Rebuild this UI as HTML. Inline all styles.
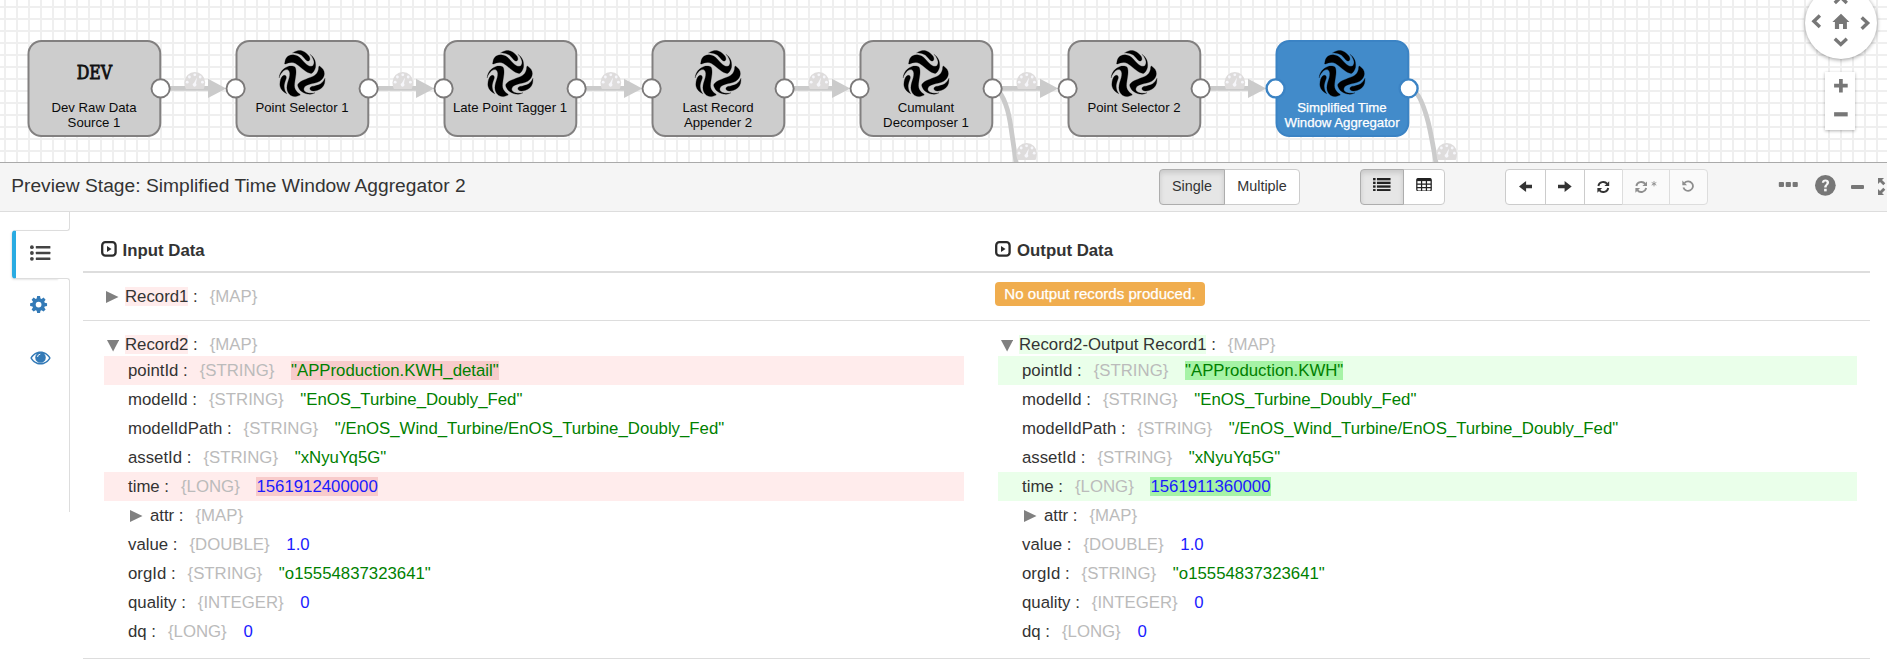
<!DOCTYPE html><html><head><meta charset="utf-8"><title>Preview</title><style>
*{box-sizing:border-box}
html,body{margin:0;padding:0}
body{width:1887px;height:662px;overflow:hidden;background:#fff;font-family:"Liberation Sans",Arial,sans-serif;color:#333;position:relative}
#canvas{position:absolute;left:0;top:0;width:1887px;height:162px;background-color:#fff;
 background-image:linear-gradient(#efefef 2px,transparent 2px),linear-gradient(90deg,#efefef 2px,transparent 2px);
 background-size:12px 12px;background-position:4px 6px;overflow:hidden}
#canvas svg{position:absolute;left:0;top:0}
#cborder{position:absolute;left:0;top:162px;width:1887px;height:1px;background:#aaa}
.nlabel{font-size:13.2px;fill:#0a0a0a;text-anchor:middle}
.nlabel.sel{fill:#fff;stroke:#fff;stroke-width:0.25px}
#pan{position:absolute;left:1805px;top:-13px;width:72px;height:72px;border-radius:50%;background:#fff;box-shadow:0 1px 4px rgba(0,0,0,.4)}
#zoom{position:absolute;left:1825px;top:72px;width:30px;height:58px;background:#fff;box-shadow:0 1px 3px rgba(0,0,0,.3)}
#hdr{position:absolute;left:0;top:163px;width:1887px;height:49px;background:#f5f5f5;border-bottom:1px solid #ddd}
#title{position:absolute;left:11.2px;top:11.6px;letter-spacing:0.025px;font-size:19.2px;line-height:22px;color:#333;white-space:nowrap}
.bg{position:absolute;top:6px;height:36px;display:flex}
.btn{height:36px;border:1px solid #ccc;background:#fff;font-size:14.4px;color:#333;display:flex;align-items:center;justify-content:center;margin-left:-1px;position:relative;padding-bottom:2px}
.btn svg{position:relative}
.btn:first-child{margin-left:0;border-radius:4px 0 0 4px}
.btn:last-child{border-radius:0 4px 4px 0}
.btn.act{background:#e6e6e6;border-color:#adadad;box-shadow:inset 0 3px 5px rgba(0,0,0,.125);z-index:2}
.btn.dis{background:#fafafa;border-color:#ddd}
.btn.dis svg{opacity:.65}
#sideU{position:absolute;left:58px;top:212px;width:12px;height:19px;border-right:1px solid #ddd;border-bottom:1px solid #ddd;border-bottom-right-radius:3px}
#sideL{position:absolute;left:58px;top:278px;width:12px;height:234px;border-right:1px solid #ddd;border-top:1px solid #ddd;border-top-right-radius:3px}
#tab{position:absolute;left:12px;top:230px;width:47px;height:49px;background:#fff;border:1px solid #ddd;border-right:0;border-left:4px solid #29abe2;border-radius:4px 0 0 4px;box-shadow:-1px 1px 2px rgba(0,0,0,.1);clip-path:inset(-4px 0 -4px -4px)}
.abs{position:absolute}
.hr{position:absolute;left:83px;width:1787px;background:#ddd}
.h{position:absolute;font-size:16.8px;font-weight:bold;color:#333;line-height:20px;white-space:nowrap}
.row{position:absolute;height:29px;line-height:29px;font-size:16.8px;white-space:nowrap;color:#333}
.row.L{left:104px;width:860px}
.row.R{left:998px;width:859px}
.row.del{background:#ffecec}
.row.add{background:#eaffea}
.row span{display:inline-block;line-height:19px;height:19px;vertical-align:baseline}
.n{margin-left:24px}
.t{color:#bbb;margin-left:7.3px}
.v{margin-left:12px}
.s{color:#008000}
.num{color:#1a1aff}
.hd{background:#f8cbcb}
.ha{background:#a6f3a6}
.ld{background:#ffecec}
.la{background:#eaffea}
.badge{position:absolute;left:995px;top:282px;width:210px;height:24px;border-radius:4px;background:#f0ad4e;color:#fff;font-size:15.1px;line-height:24px;padding-left:9.3px;white-space:nowrap;-webkit-text-stroke:0.25px #fff}
</style></head><body><div id="canvas"><svg width="1887" height="162" viewBox="0 0 1887 162" font-family="Liberation Sans, Arial, sans-serif"><defs><g id="arm"><path d="M-8.90,-22.10C-8.07,-22.47 -5.53,-23.97 -3.90,-24.30C-2.27,-24.63 -0.60,-24.55 0.90,-24.10C2.40,-23.65 3.97,-22.50 5.10,-21.60C6.23,-20.70 7.13,-19.68 7.70,-18.70C8.27,-17.72 8.57,-16.48 8.50,-15.70C8.43,-14.92 7.85,-14.22 7.30,-14.00C6.75,-13.78 5.95,-13.90 5.20,-14.40C4.45,-14.90 3.68,-16.08 2.80,-17.00C1.92,-17.92 0.97,-19.13 -0.10,-19.90C-1.17,-20.67 -2.48,-21.23 -3.60,-21.60C-4.72,-21.97 -5.92,-22.02 -6.80,-22.10C-7.68,-22.18 -8.55,-22.10 -8.90,-22.10Z"/><path d="M-16.80,-11.00C-16.62,-11.83 -16.40,-14.63 -15.70,-16.00C-15.00,-17.37 -13.85,-18.50 -12.60,-19.20C-11.35,-19.90 -9.68,-20.25 -8.20,-20.20C-6.72,-20.15 -5.12,-19.67 -3.70,-18.90C-2.28,-18.13 -0.95,-16.78 0.30,-15.60C1.55,-14.42 2.67,-12.85 3.80,-11.80C4.93,-10.75 6.08,-9.82 7.10,-9.30C8.12,-8.78 9.08,-8.58 9.90,-8.70C10.72,-8.82 11.55,-9.23 12.00,-10.00C12.45,-10.77 12.68,-12.22 12.60,-13.30C12.52,-14.38 11.95,-15.48 11.50,-16.50C11.05,-17.52 10.40,-18.72 9.90,-19.40C9.40,-20.08 8.73,-20.40 8.50,-20.60C8.93,-20.27 10.28,-19.55 11.10,-18.60C11.92,-17.65 12.88,-16.20 13.40,-14.90C13.92,-13.60 14.10,-12.08 14.20,-10.80C14.30,-9.52 14.25,-8.30 14.00,-7.20C13.75,-6.10 13.28,-5.10 12.70,-4.20C12.12,-3.30 11.28,-2.18 10.50,-1.80C9.72,-1.42 8.97,-1.62 8.00,-1.90C7.03,-2.18 5.82,-2.82 4.70,-3.50C3.58,-4.18 2.47,-5.10 1.30,-6.00C0.13,-6.90 -1.12,-8.00 -2.30,-8.90C-3.48,-9.80 -4.63,-10.80 -5.80,-11.40C-6.97,-12.00 -8.10,-12.38 -9.30,-12.50C-10.50,-12.62 -11.95,-12.35 -13.00,-12.10C-14.05,-11.85 -14.97,-11.18 -15.60,-11.00C-16.23,-10.82 -16.60,-11.00 -16.80,-11.00Z"/></g><g id="logo" fill="#000" stroke="#000" stroke-width="0.25" stroke-linejoin="round"><use href="#arm"/><use href="#arm" transform="rotate(120)"/><use href="#arm" transform="rotate(240)"/></g></defs><path d="M161,88.4H209" stroke="#cbcbcb" stroke-width="4.8" fill="none"/><path d="M208,78.8L226.2,88.4L208,98Z" fill="#cbcbcb"/><g transform="translate(184.5,72)"><path d="M0,10.3A10.3,10.3 0 0 1 20.6,10.3C20.6,12.9 20,15 19.2,17L1.4,17C0.6,15 0,12.9 0,10.3Z" fill="#dedcdc"/><circle cx="2.7" cy="10.2" r="1.4" fill="#f6f6fa"/><circle cx="4.9" cy="5.0" r="1.4" fill="#f6f6fa"/><circle cx="10.3" cy="2.8" r="1.4" fill="#f6f6fa"/><circle cx="15.7" cy="5.0" r="1.4" fill="#f6f6fa"/><circle cx="17.9" cy="10.2" r="1.4" fill="#f6f6fa"/><path d="M12.5,5.6L11.5,11.4A1.9,1.9 0 1 1 9.4,10.9L12.5,5.6Z" fill="#f6f6fa"/></g><path d="M369,88.4H417" stroke="#cbcbcb" stroke-width="4.8" fill="none"/><path d="M416,78.8L434.2,88.4L416,98Z" fill="#cbcbcb"/><g transform="translate(392.5,72)"><path d="M0,10.3A10.3,10.3 0 0 1 20.6,10.3C20.6,12.9 20,15 19.2,17L1.4,17C0.6,15 0,12.9 0,10.3Z" fill="#dedcdc"/><circle cx="2.7" cy="10.2" r="1.4" fill="#f6f6fa"/><circle cx="4.9" cy="5.0" r="1.4" fill="#f6f6fa"/><circle cx="10.3" cy="2.8" r="1.4" fill="#f6f6fa"/><circle cx="15.7" cy="5.0" r="1.4" fill="#f6f6fa"/><circle cx="17.9" cy="10.2" r="1.4" fill="#f6f6fa"/><path d="M12.5,5.6L11.5,11.4A1.9,1.9 0 1 1 9.4,10.9L12.5,5.6Z" fill="#f6f6fa"/></g><path d="M577,88.4H625" stroke="#cbcbcb" stroke-width="4.8" fill="none"/><path d="M624,78.8L642.2,88.4L624,98Z" fill="#cbcbcb"/><g transform="translate(600.5,72)"><path d="M0,10.3A10.3,10.3 0 0 1 20.6,10.3C20.6,12.9 20,15 19.2,17L1.4,17C0.6,15 0,12.9 0,10.3Z" fill="#dedcdc"/><circle cx="2.7" cy="10.2" r="1.4" fill="#f6f6fa"/><circle cx="4.9" cy="5.0" r="1.4" fill="#f6f6fa"/><circle cx="10.3" cy="2.8" r="1.4" fill="#f6f6fa"/><circle cx="15.7" cy="5.0" r="1.4" fill="#f6f6fa"/><circle cx="17.9" cy="10.2" r="1.4" fill="#f6f6fa"/><path d="M12.5,5.6L11.5,11.4A1.9,1.9 0 1 1 9.4,10.9L12.5,5.6Z" fill="#f6f6fa"/></g><path d="M785,88.4H833" stroke="#cbcbcb" stroke-width="4.8" fill="none"/><path d="M832,78.8L850.2,88.4L832,98Z" fill="#cbcbcb"/><g transform="translate(808.5,72)"><path d="M0,10.3A10.3,10.3 0 0 1 20.6,10.3C20.6,12.9 20,15 19.2,17L1.4,17C0.6,15 0,12.9 0,10.3Z" fill="#dedcdc"/><circle cx="2.7" cy="10.2" r="1.4" fill="#f6f6fa"/><circle cx="4.9" cy="5.0" r="1.4" fill="#f6f6fa"/><circle cx="10.3" cy="2.8" r="1.4" fill="#f6f6fa"/><circle cx="15.7" cy="5.0" r="1.4" fill="#f6f6fa"/><circle cx="17.9" cy="10.2" r="1.4" fill="#f6f6fa"/><path d="M12.5,5.6L11.5,11.4A1.9,1.9 0 1 1 9.4,10.9L12.5,5.6Z" fill="#f6f6fa"/></g><path d="M993,88.4H1041" stroke="#cbcbcb" stroke-width="4.8" fill="none"/><path d="M1040,78.8L1058.2,88.4L1040,98Z" fill="#cbcbcb"/><g transform="translate(1016.5,72)"><path d="M0,10.3A10.3,10.3 0 0 1 20.6,10.3C20.6,12.9 20,15 19.2,17L1.4,17C0.6,15 0,12.9 0,10.3Z" fill="#dedcdc"/><circle cx="2.7" cy="10.2" r="1.4" fill="#f6f6fa"/><circle cx="4.9" cy="5.0" r="1.4" fill="#f6f6fa"/><circle cx="10.3" cy="2.8" r="1.4" fill="#f6f6fa"/><circle cx="15.7" cy="5.0" r="1.4" fill="#f6f6fa"/><circle cx="17.9" cy="10.2" r="1.4" fill="#f6f6fa"/><path d="M12.5,5.6L11.5,11.4A1.9,1.9 0 1 1 9.4,10.9L12.5,5.6Z" fill="#f6f6fa"/></g><path d="M1201,88.4H1249" stroke="#cbcbcb" stroke-width="4.8" fill="none"/><path d="M1248,78.8L1266.2,88.4L1248,98Z" fill="#cbcbcb"/><g transform="translate(1224.5,72)"><path d="M0,10.3A10.3,10.3 0 0 1 20.6,10.3C20.6,12.9 20,15 19.2,17L1.4,17C0.6,15 0,12.9 0,10.3Z" fill="#dedcdc"/><circle cx="2.7" cy="10.2" r="1.4" fill="#f6f6fa"/><circle cx="4.9" cy="5.0" r="1.4" fill="#f6f6fa"/><circle cx="10.3" cy="2.8" r="1.4" fill="#f6f6fa"/><circle cx="15.7" cy="5.0" r="1.4" fill="#f6f6fa"/><circle cx="17.9" cy="10.2" r="1.4" fill="#f6f6fa"/><path d="M12.5,5.6L11.5,11.4A1.9,1.9 0 1 1 9.4,10.9L12.5,5.6Z" fill="#f6f6fa"/></g><path d="M993,88.4C1001,88.4 1007.5,106 1010.2,122.6C1012.4,137 1014.5,151 1017.5,172" stroke="#cbcbcb" stroke-width="4.8" fill="none"/><g transform="translate(1016.3,143)"><path d="M0,10.3A10.3,10.3 0 0 1 20.6,10.3C20.6,12.9 20,15 19.2,17L1.4,17C0.6,15 0,12.9 0,10.3Z" fill="#dedcdc"/><circle cx="2.7" cy="10.2" r="1.4" fill="#f6f6fa"/><circle cx="4.9" cy="5.0" r="1.4" fill="#f6f6fa"/><circle cx="10.3" cy="2.8" r="1.4" fill="#f6f6fa"/><circle cx="15.7" cy="5.0" r="1.4" fill="#f6f6fa"/><circle cx="17.9" cy="10.2" r="1.4" fill="#f6f6fa"/><path d="M12.5,5.6L11.5,11.4A1.9,1.9 0 1 1 9.4,10.9L12.5,5.6Z" fill="#f6f6fa"/></g><path d="M1409,88.4C1418,88.4 1424.5,108 1428.3,122.6C1431.5,136 1434,150 1437.5,172" stroke="#cbcbcb" stroke-width="4.8" fill="none"/><g transform="translate(1436.5,143)"><path d="M0,10.3A10.3,10.3 0 0 1 20.6,10.3C20.6,12.9 20,15 19.2,17L1.4,17C0.6,15 0,12.9 0,10.3Z" fill="#dedcdc"/><circle cx="2.7" cy="10.2" r="1.4" fill="#f6f6fa"/><circle cx="4.9" cy="5.0" r="1.4" fill="#f6f6fa"/><circle cx="10.3" cy="2.8" r="1.4" fill="#f6f6fa"/><circle cx="15.7" cy="5.0" r="1.4" fill="#f6f6fa"/><circle cx="17.9" cy="10.2" r="1.4" fill="#f6f6fa"/><path d="M12.5,5.6L11.5,11.4A1.9,1.9 0 1 1 9.4,10.9L12.5,5.6Z" fill="#f6f6fa"/></g> <rect x="28.5" y="41" width="131.8" height="95" rx="13" ry="13" fill="#cdcdcd" stroke="#828080" stroke-width="2"/><text x="76.7" y="78.7" font-family="DejaVu Serif, Liberation Serif, serif" font-size="18.4" textLength="35.4" lengthAdjust="spacingAndGlyphs" fill="#111" stroke="#111" stroke-width="0.85">DEV</text><text x="94" y="112.0" class="nlabel">Dev Raw Data</text><text x="94" y="126.7" class="nlabel">Source 1</text><circle cx="160.6" cy="88.4" r="9.1" fill="#fff" stroke="#7b7979" stroke-width="1.9"/> <rect x="236.5" y="41" width="131.8" height="95" rx="13" ry="13" fill="#cdcdcd" stroke="#828080" stroke-width="2"/><use href="#logo" x="301.4" y="75.0"/><text x="302" y="112.0" class="nlabel">Point Selector 1</text><circle cx="235.6" cy="88.4" r="9.1" fill="#fff" stroke="#7b7979" stroke-width="1.9"/><circle cx="368.6" cy="88.4" r="9.1" fill="#fff" stroke="#7b7979" stroke-width="1.9"/> <rect x="444.5" y="41" width="131.8" height="95" rx="13" ry="13" fill="#cdcdcd" stroke="#828080" stroke-width="2"/><use href="#logo" x="509.4" y="75.0"/><text x="510" y="112.0" class="nlabel">Late Point Tagger 1</text><circle cx="443.6" cy="88.4" r="9.1" fill="#fff" stroke="#7b7979" stroke-width="1.9"/><circle cx="576.6" cy="88.4" r="9.1" fill="#fff" stroke="#7b7979" stroke-width="1.9"/> <rect x="652.5" y="41" width="131.8" height="95" rx="13" ry="13" fill="#cdcdcd" stroke="#828080" stroke-width="2"/><use href="#logo" x="717.4" y="75.0"/><text x="718" y="112.0" class="nlabel">Last Record</text><text x="718" y="126.7" class="nlabel">Appender 2</text><circle cx="651.6" cy="88.4" r="9.1" fill="#fff" stroke="#7b7979" stroke-width="1.9"/><circle cx="784.6" cy="88.4" r="9.1" fill="#fff" stroke="#7b7979" stroke-width="1.9"/> <rect x="860.5" y="41" width="131.8" height="95" rx="13" ry="13" fill="#cdcdcd" stroke="#828080" stroke-width="2"/><use href="#logo" x="925.4" y="75.0"/><text x="926" y="112.0" class="nlabel">Cumulant</text><text x="926" y="126.7" class="nlabel">Decomposer 1</text><circle cx="859.6" cy="88.4" r="9.1" fill="#fff" stroke="#7b7979" stroke-width="1.9"/><circle cx="992.6" cy="88.4" r="9.1" fill="#fff" stroke="#7b7979" stroke-width="1.9"/> <rect x="1068.5" y="41" width="131.8" height="95" rx="13" ry="13" fill="#cdcdcd" stroke="#828080" stroke-width="2"/><use href="#logo" x="1133.4" y="75.0"/><text x="1134" y="112.0" class="nlabel">Point Selector 2</text><circle cx="1067.6" cy="88.4" r="9.1" fill="#fff" stroke="#7b7979" stroke-width="1.9"/><circle cx="1200.6" cy="88.4" r="9.1" fill="#fff" stroke="#7b7979" stroke-width="1.9"/> <rect x="1276.5" y="41" width="131.8" height="95" rx="13" ry="13" fill="#428bca" stroke="#3b83c4" stroke-width="2"/><use href="#logo" x="1341.4" y="75.0"/><text x="1342" y="112.0" class="nlabel sel">Simplified Time</text><text x="1342" y="126.7" class="nlabel sel">Window Aggregator</text><circle cx="1275.6" cy="88.4" r="9.0" fill="#fff" stroke="#3b83c4" stroke-width="2.4"/><circle cx="1408.6" cy="88.4" r="9.0" fill="#fff" stroke="#3b83c4" stroke-width="2.4"/></svg><div id="pan"><svg width="72" height="72" viewBox="0 0 72 72" style="position:absolute;left:0;top:0"><path d="M14.9,28.6L8.9,34.3L14.9,40" stroke="#777" stroke-width="3.4" fill="none"/><path d="M56.7,30.4L62.65,36.1L56.7,41.8" stroke="#777" stroke-width="3.4" fill="none"/><path d="M29.8,51.8L35.8,57.5L41.8,51.8" stroke="#777" stroke-width="3.4" fill="none"/><path d="M29.8,15.9L35.8,10.2L41.8,15.9" stroke="#777" stroke-width="3.4" fill="none"/><path d="M36,26.8L27.4,35.1H29.9V42.1H34.1V37.1H38V42.1H41.9V35.1H44.4Z" fill="#777"/></svg></div><div id="zoom"><svg width="30" height="58" viewBox="0 0 30 58" style="position:absolute;left:0;top:0"><path d="M9.1,13.7H22.7M15.9,6.9V20.5" stroke="#777" stroke-width="3.7" fill="none"/><path d="M9.1,42.3H22.7" stroke="#777" stroke-width="4.2" fill="none"/></svg></div></div><div id="cborder"></div><div id="hdr"><div id="title">Preview Stage: Simplified Time Window Aggregator 2</div><div class="bg" style="left:1159px"><div class="btn act" style="width:66px">Single</div><div class="btn" style="width:76px">Multiple</div></div><div class="bg" style="left:1360px"><div class="btn act" style="width:44px"><svg width="17.6" height="13.6" viewBox="0 0 18 14" style="top:-1.7px"><rect x="0" y="0" width="2.6" height="2.4" fill="#222"/><rect x="4" y="0" width="14" height="2.4" fill="#222"/><rect x="0" y="3.8" width="2.6" height="2.4" fill="#222"/><rect x="4" y="3.8" width="14" height="2.4" fill="#222"/><rect x="0" y="7.6" width="2.6" height="2.4" fill="#222"/><rect x="4" y="7.6" width="14" height="2.4" fill="#222"/><rect x="0" y="11.4" width="2.6" height="2.4" fill="#222"/><rect x="4" y="11.4" width="14" height="2.4" fill="#222"/></svg></div><div class="btn" style="width:42px"><svg width="16" height="13.6" viewBox="0 0 16 14" style="top:-1.7px"><rect x="0.6" y="0.6" width="14.8" height="12.8" rx="1.6" fill="none" stroke="#222" stroke-width="1.3"/><rect x="0.6" y="0.6" width="14.8" height="2.6" fill="#222"/><path d="M0.6,6.4H15.4M0.6,9.8H15.4M5.5,3V13.4M10.5,3V13.4" stroke="#222" stroke-width="1.3"/></svg></div></div><div class="bg" style="left:1505px"><div class="btn" style="width:41px"><svg width="13.7" height="11" viewBox="0 0 13.7 11" style="top:0.5px"><path d="M0,5.5L7.1,0V3.7H13.7V7.3H7.1V11Z" fill="#333"/></svg></div><div class="btn" style="width:40px"><svg width="13.7" height="11" viewBox="0 0 13.7 11" style="top:0.5px"><path d="M0,5.5L7.1,0V3.7H13.7V7.3H7.1V11Z" transform="translate(13.7,0) scale(-1,1)" fill="#333"/></svg></div><div class="btn" style="width:39px"><svg width="12.6" height="12" viewBox="0 0 13 13" preserveAspectRatio="none" style="top:0.5px"><path d="M1.4,5.4A5.2,5.2 0 0 1 10.6,3.1" stroke="#333" stroke-width="1.9" fill="none"/><path d="M12.6,0.4V5.3H7.7Z" fill="#333"/><path d="M11.6,7.6A5.2,5.2 0 0 1 2.4,9.9" stroke="#333" stroke-width="1.9" fill="none"/><path d="M0.4,12.6V7.7H5.3Z" fill="#333"/></svg></div><div class="btn dis" style="width:48px"><svg width="12.6" height="12" viewBox="0 0 13 13" preserveAspectRatio="none" style="top:0.5px"><path d="M1.4,5.4A5.2,5.2 0 0 1 10.6,3.1" stroke="#555" stroke-width="1.9" fill="none"/><path d="M12.6,0.4V5.3H7.7Z" fill="#555"/><path d="M11.6,7.6A5.2,5.2 0 0 1 2.4,9.9" stroke="#555" stroke-width="1.9" fill="none"/><path d="M0.4,12.6V7.7H5.3Z" fill="#555"/></svg><svg width="6" height="13" viewBox="0 0 6 13" style="margin-left:4px"><path d="M3,1.2V6.4M0.7,2.5L5.3,5.1M5.3,2.5L0.7,5.1" stroke="#555" stroke-width="0.9"/></svg></div><div class="btn dis" style="width:39px"><svg width="12.4" height="12" viewBox="0 0 13 13" preserveAspectRatio="none" style="top:0.4px"><path d="M2.6,3.2A5.1,5.1 0 1 1 1.5,8.2" stroke="#555" stroke-width="1.9" fill="none"/><path d="M0.3,0.6V5.6H5.3Z" fill="#555"/></svg></div></div><svg class="abs" style="left:1778px;top:18px" width="21" height="7" viewBox="0 0 21 7"><rect x="0.8" y="0.9" width="5.2" height="5.1" rx="0.9" fill="#777"/><rect x="7.7" y="0.9" width="5.2" height="5.1" rx="0.9" fill="#777"/><rect x="14.6" y="0.9" width="5.2" height="5.1" rx="0.9" fill="#777"/></svg><svg class="abs" style="left:1815px;top:12px" width="20.7" height="20.7" viewBox="0 0 20 20"><circle cx="10" cy="10" r="10" fill="#777"/><path d="M6.6,7.6C6.6,5.4 8.2,4.3 10.1,4.3C12.1,4.3 13.6,5.5 13.6,7.3C13.6,9.6 11.2,9.9 11.2,12H8.9C8.9,9.2 11.2,9 11.2,7.4C11.2,6.8 10.7,6.4 10.1,6.4C9.4,6.4 8.9,6.9 8.9,7.6Z" fill="#f5f5f5"/><rect x="8.8" y="13.3" width="2.5" height="2.5" fill="#f5f5f5"/></svg><div class="abs" style="left:1851px;top:22px;width:13px;height:4px;background:#777;border-radius:1px"></div><svg class="abs" style="left:1877px;top:15px" width="12" height="18" viewBox="0 0 12 18"><path d="M1,0H7L5,2L8.3,5.3L6.3,7.3L3,4L1,6Z" fill="#777"/><path d="M1,17H7L5,15L8.3,11.7L6.3,9.7L3,13L1,11Z" fill="#777"/></svg></div><div id="tab"></div><div id="sideU"></div><div id="sideL"></div><svg class="abs" style="left:30px;top:245px" width="21" height="16" viewBox="0 0 21 16"><circle cx="1.9" cy="2.2" r="1.9" fill="#444"/><rect x="5.8" y="0.9000000000000001" width="14.6" height="2.6" rx="0.5" fill="#444"/><circle cx="1.9" cy="8" r="1.9" fill="#444"/><rect x="5.8" y="6.7" width="14.6" height="2.6" rx="0.5" fill="#444"/><circle cx="1.9" cy="13.8" r="1.9" fill="#444"/><rect x="5.8" y="12.5" width="14.6" height="2.6" rx="0.5" fill="#444"/></svg><svg class="abs" style="left:30.4px;top:296.4px" width="17.2" height="17.2" viewBox="0 0 17.2 17.2"><path d="M7.15,0.12L10.05,0.12L10.49,2.49L11.59,2.94L13.56,1.58L15.62,3.64L14.26,5.61L14.71,6.71L17.08,7.15L17.08,10.05L14.71,10.49L14.26,11.59L15.62,13.56L13.56,15.62L11.59,14.26L10.49,14.71L10.05,17.08L7.15,17.08L6.71,14.71L5.61,14.26L3.64,15.62L1.58,13.56L2.94,11.59L2.49,10.49L0.12,10.05L0.12,7.15L2.49,6.71L2.94,5.61L1.58,3.64L3.64,1.58L5.61,2.94L6.71,2.49ZM11.5,8.6A2.9,2.9 0 1 0 5.699999999999999,8.6A2.9,2.9 0 1 0 11.5,8.6Z" fill="#337ab7" fill-rule="evenodd"/></svg><svg class="abs" style="left:30px;top:350.5px" width="21" height="14" viewBox="0 0 21 14"><path d="M0.3,7C2.5,2.8 6.2,0.4 10.5,0.4C14.8,0.4 18.5,2.8 20.7,7C18.5,11.2 14.8,13.6 10.5,13.6C6.2,13.6 2.5,11.2 0.3,7ZM1.9,7C3.9,10.2 7,12.1 10.5,12.1C14,12.1 17.1,10.2 19.1,7C17.9,5 16.2,3.6 14.2,2.7A5.3,5.3 0 1 1 6.8,2.7C4.8,3.6 3.1,5 1.9,7Z" fill="#337ab7" fill-rule="evenodd"/><circle cx="10.5" cy="6.2" r="3.6" fill="#337ab7"/><path d="M10.3,3.2A3,3 0 0 0 7.5,6" stroke="#fff" stroke-width="0.9" fill="none"/></svg><svg class="abs" style="left:100.9px;top:241.1px" width="16" height="16" viewBox="0 0 16 16"><rect x="1.2" y="1.2" width="13.4" height="13.4" rx="3.2" fill="none" stroke="#2b2b2b" stroke-width="2.3"/><path d="M6,5L10.5,7.9L6,10.9Z" fill="#2b2b2b"/></svg><div class="h" style="left:122.6px;top:241.3px">Input Data</div><svg class="abs" style="left:995px;top:241.1px" width="16" height="16" viewBox="0 0 16 16"><rect x="1.2" y="1.2" width="13.4" height="13.4" rx="3.2" fill="none" stroke="#2b2b2b" stroke-width="2.3"/><path d="M6,5L10.5,7.9L6,10.9Z" fill="#2b2b2b"/></svg><div class="h" style="left:1017px;top:241.3px">Output Data</div><div class="hr" style="top:271px;height:2px"></div><div class="hr" style="top:320px;height:1px"></div><div class="hr" style="top:658px;height:1px"></div><div class="badge">No output records produced.</div><div class="row L" style="top:282px"><span style="margin-left:2px;width:12.5px"><svg width="12.5" height="12" viewBox="0 0 12.5 12" style="vertical-align:-1px"><path d="M0,0L12.5,6L0,12Z" fill="#808080"/></svg></span><span class="ld" style="margin-left:6.5px">Record1</span><span>&nbsp;:</span><span class="t" style="margin-left:12px">{MAP}</span></div><div class="row L" style="top:330px"><span style="margin-left:3px;width:12.2px"><svg width="12.2" height="11.6" viewBox="0 0 12.2 11.6" style="vertical-align:-1.5px"><path d="M0,0H12.2L6.1,11.6Z" fill="#808080"/></svg></span><span class="ld" style="margin-left:5.8px">Record2</span><span>&nbsp;:</span><span class="t" style="margin-left:12px">{MAP}</span></div><div class="row R" style="top:330px"><span style="margin-left:3px;width:12.2px"><svg width="12.2" height="11.6" viewBox="0 0 12.2 11.6" style="vertical-align:-1.5px"><path d="M0,0H12.2L6.1,11.6Z" fill="#808080"/></svg></span><span class="la" style="margin-left:5.8px">Record2-Output Record1</span><span>&nbsp;:</span><span class="t" style="margin-left:12px">{MAP}</span></div><div class="row L del" style="top:356px"><span class="n">pointId</span><span>&nbsp;:</span><span class="t">&nbsp;{STRING}</span><span style="width:4.7px"></span><span class="v s hd">"APProduction.KWH_detail"</span></div><div class="row L" style="top:385px"><span class="n">modelId</span><span>&nbsp;:</span><span class="t">&nbsp;{STRING}</span><span style="width:4.7px"></span><span class="v s">"EnOS_Turbine_Doubly_Fed"</span></div><div class="row L" style="top:414px"><span class="n">modelIdPath</span><span>&nbsp;:</span><span class="t">&nbsp;{STRING}</span><span style="width:4.7px"></span><span class="v s">"/EnOS_Wind_Turbine/EnOS_Turbine_Doubly_Fed"</span></div><div class="row L" style="top:443px"><span class="n">assetId</span><span>&nbsp;:</span><span class="t">&nbsp;{STRING}</span><span style="width:4.7px"></span><span class="v s">"xNyuYq5G"</span></div><div class="row L del" style="top:472px"><span class="n">time</span><span>&nbsp;:</span><span class="t">&nbsp;{LONG}</span><span style="width:4.7px"></span><span class="v num hd">1561912400000</span></div><div class="row L" style="top:501px"><span style="margin-left:26px;width:12.5px"><svg width="12.5" height="12" viewBox="0 0 12.5 12" style="vertical-align:-1px"><path d="M0,0L12.5,6L0,12Z" fill="#808080"/></svg></span><span style="margin-left:7.4px">attr</span><span>&nbsp;:</span><span class="t">&nbsp;{MAP}</span></div><div class="row L" style="top:530px"><span class="n">value</span><span>&nbsp;:</span><span class="t">&nbsp;{DOUBLE}</span><span style="width:4.7px"></span><span class="v num">1.0</span></div><div class="row L" style="top:559px"><span class="n">orgId</span><span>&nbsp;:</span><span class="t">&nbsp;{STRING}</span><span style="width:4.7px"></span><span class="v s">"o15554837323641"</span></div><div class="row L" style="top:588px"><span class="n">quality</span><span>&nbsp;:</span><span class="t">&nbsp;{INTEGER}</span><span style="width:4.7px"></span><span class="v num">0</span></div><div class="row L" style="top:617px"><span class="n">dq</span><span>&nbsp;:</span><span class="t">&nbsp;{LONG}</span><span style="width:4.7px"></span><span class="v num">0</span></div><div class="row R add" style="top:356px"><span class="n">pointId</span><span>&nbsp;:</span><span class="t">&nbsp;{STRING}</span><span style="width:4.7px"></span><span class="v s ha">"APProduction.KWH"</span></div><div class="row R" style="top:385px"><span class="n">modelId</span><span>&nbsp;:</span><span class="t">&nbsp;{STRING}</span><span style="width:4.7px"></span><span class="v s">"EnOS_Turbine_Doubly_Fed"</span></div><div class="row R" style="top:414px"><span class="n">modelIdPath</span><span>&nbsp;:</span><span class="t">&nbsp;{STRING}</span><span style="width:4.7px"></span><span class="v s">"/EnOS_Wind_Turbine/EnOS_Turbine_Doubly_Fed"</span></div><div class="row R" style="top:443px"><span class="n">assetId</span><span>&nbsp;:</span><span class="t">&nbsp;{STRING}</span><span style="width:4.7px"></span><span class="v s">"xNyuYq5G"</span></div><div class="row R add" style="top:472px"><span class="n">time</span><span>&nbsp;:</span><span class="t">&nbsp;{LONG}</span><span style="width:4.7px"></span><span class="v num ha">1561911360000</span></div><div class="row R" style="top:501px"><span style="margin-left:26px;width:12.5px"><svg width="12.5" height="12" viewBox="0 0 12.5 12" style="vertical-align:-1px"><path d="M0,0L12.5,6L0,12Z" fill="#808080"/></svg></span><span style="margin-left:7.4px">attr</span><span>&nbsp;:</span><span class="t">&nbsp;{MAP}</span></div><div class="row R" style="top:530px"><span class="n">value</span><span>&nbsp;:</span><span class="t">&nbsp;{DOUBLE}</span><span style="width:4.7px"></span><span class="v num">1.0</span></div><div class="row R" style="top:559px"><span class="n">orgId</span><span>&nbsp;:</span><span class="t">&nbsp;{STRING}</span><span style="width:4.7px"></span><span class="v s">"o15554837323641"</span></div><div class="row R" style="top:588px"><span class="n">quality</span><span>&nbsp;:</span><span class="t">&nbsp;{INTEGER}</span><span style="width:4.7px"></span><span class="v num">0</span></div><div class="row R" style="top:617px"><span class="n">dq</span><span>&nbsp;:</span><span class="t">&nbsp;{LONG}</span><span style="width:4.7px"></span><span class="v num">0</span></div></body></html>
